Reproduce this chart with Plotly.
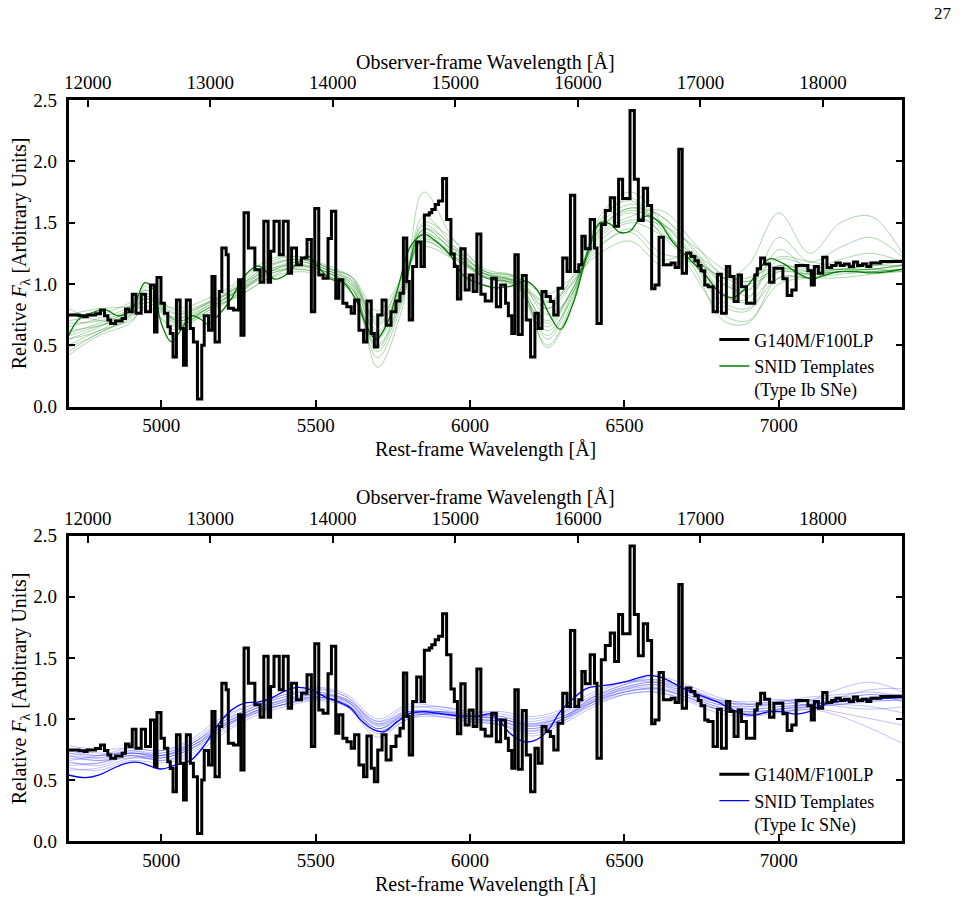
import plotly.graph_objects as go

# ---------------- data ----------------
ONE_PLUS_Z = 2.52          # observer / rest wavelength ratio
WL_MIN, WL_MAX = 4700, 7400

# binned G140M/F100LP spectrum: bin start wavelength (rest, A) and relative flux
SPEC_WL = [4696, 4734, 4750, 4760, 4787, 4803, 4816, 4827, 4836, 4852, 4873, 4884, 4895, 4906, 4918,
           4935, 4949, 4965, 4978, 4986, 4999, 5010, 5021, 5029, 5038, 5049, 5061, 5072, 5081, 5094,
           5104, 5117, 5131, 5139, 5153, 5164, 5174, 5188, 5196, 5210, 5217, 5234, 5250, 5258, 5268,
           5282, 5303, 5320, 5332, 5346, 5354, 5365, 5382, 5395, 5411, 5422, 5438, 5454, 5472, 5486,
           5497, 5510, 5524, 5540, 5551, 5565, 5575, 5588, 5601, 5615, 5626, 5640, 5655, 5666, 5680,
           5690, 5701, 5715, 5728, 5744, 5760, 5773, 5784, 5795, 5803, 5814, 5827, 5841, 5852, 5868,
           5876, 5887, 5898, 5911, 5924, 5938, 5949, 5959, 5970, 5984, 5997, 6010, 6022, 6035, 6049,
           6070, 6085, 6099, 6115, 6124, 6135, 6145, 6156, 6169, 6182, 6196, 6210, 6221, 6233, 6246,
           6260, 6271, 6285, 6300, 6314, 6325, 6339, 6352, 6362, 6373, 6389, 6403, 6411, 6425, 6438,
           6454, 6468, 6481, 6494, 6518, 6532, 6545, 6561, 6575, 6588, 6599, 6612, 6626, 6651, 6664,
           6676, 6687, 6701, 6715, 6728, 6739, 6748, 6760, 6771, 6787, 6801, 6814, 6830, 6841, 6855,
           6868, 6879, 6895, 6922, 6930, 6941, 6954, 6970, 6984, 7013, 7027, 7042, 7056, 7094, 7105,
           7115, 7128, 7142, 7156, 7171, 7185, 7199, 7212, 7228, 7242, 7255, 7271, 7285, 7298, 7330]
SPEC_FLUX = [0.746, 0.740, 0.733, 0.746, 0.757, 0.787, 0.741, 0.705, 0.678, 0.697, 0.719, 0.795, 0.774, 0.916, 0.760,
             0.916, 0.774, 0.992, 0.609, 1.053, 0.842, 0.760, 0.650, 0.595, 0.404, 0.870, 0.637, 0.336, 0.870, 0.637,
             0.527, 0.062, 0.500, 0.741, 0.623, 1.061, 0.527, 0.938, 1.293, 1.238, 0.801, 0.787, 1.034, 0.582, 1.581,
             1.293, 1.115, 1.014, 1.512, 1.014, 1.266, 1.512, 1.238, 1.512, 1.088, 1.293, 1.156, 1.211, 1.362, 0.774,
             1.616, 1.074, 1.047, 1.370, 1.594, 0.883, 1.034, 0.842, 0.814, 0.760, 0.870, 0.623, 0.527, 0.861, 0.596,
             0.486, 0.746, 0.870, 0.664, 0.774, 0.861, 0.924, 1.375, 1.020, 0.705, 1.143, 1.343, 1.143, 1.562, 1.581,
             1.608, 1.649, 1.676, 1.860, 1.526, 1.244, 1.143, 0.878, 1.288, 0.951, 1.074, 0.938, 1.408, 0.916, 0.861,
             1.047, 0.814, 0.992, 0.842, 0.741, 0.596, 1.238, 0.587, 1.069, 0.705, 0.404, 0.760, 0.637, 0.938, 0.897,
             0.856, 0.746, 0.965, 1.211, 1.102, 1.723, 1.102, 1.156, 1.389, 1.288, 1.526, 1.293, 0.678, 1.485, 1.600,
             1.704, 1.471, 1.854, 1.698, 2.415, 1.854, 1.518, 1.780, 1.641, 0.960, 0.992, 1.381, 1.156, 1.170, 1.135,
             2.100, 1.088, 1.253, 1.225, 1.189, 1.151, 1.107, 0.992, 0.978, 0.774, 1.080, 0.760, 1.143, 1.061, 0.856,
             1.074, 0.978, 0.842, 1.074, 1.124, 1.211, 1.162, 1.014, 1.129, 1.042, 0.905, 0.951, 1.151, 1.107, 0.992,
             1.143, 1.088, 1.217, 1.135, 1.151, 1.170, 1.151, 1.162, 1.143, 1.179, 1.151, 1.162, 1.143, 1.170, 1.184]

# best-matching Type Ib template (dark green)
IB_MAIN_WL = [4700, 4732, 4775, 4818, 4861, 4904, 4947, 4974, 5000, 5032, 5065, 5097, 5129, 5151, 5183,
              5226, 5269, 5312, 5333, 5366, 5398, 5441, 5473, 5505, 5548, 5591, 5634, 5657, 5695, 5732,
              5765, 5808, 5851, 5894, 5937, 5980, 6023, 6076, 6130, 6179, 6216, 6259, 6292, 6335, 6378,
              6421, 6453, 6485, 6517, 6550, 6576, 6614, 6657, 6711, 6765, 6808, 6851, 6894, 6937, 6969,
              7012, 7066, 7109, 7141, 7195, 7249, 7302, 7356, 7400]
IB_MAIN_FLUX = [0.58, 0.71, 0.765, 0.79, 0.74, 0.79, 1.01, 0.955, 0.68, 0.53, 0.63, 0.74, 0.71, 0.67, 0.74,
                0.876, 1.065, 1.147, 1.12, 1.04, 1.065, 1.17, 1.23, 1.147, 1.04, 1.01, 0.85, 0.70, 0.547, 0.68,
                0.955, 1.31, 1.405, 1.34, 1.23, 1.065, 1.01, 0.97, 0.98, 1.025, 0.955, 0.74, 0.63, 0.85, 1.23,
                1.50, 1.49, 1.42, 1.43, 1.53, 1.555, 1.50, 1.34, 1.20, 1.065, 0.93, 0.89, 0.97, 1.12, 1.205,
                1.17, 1.08, 1.04, 1.065, 1.10, 1.10, 1.09, 1.10, 1.12]

# other Type Ib templates (light green), sampled on IB_GRID
IB_GRID = [4700, 4800, 4900, 4950, 5050, 5150, 5250, 5350, 5450, 5550, 5620, 5700, 5780, 5850, 5950,
           6050, 6150, 6250, 6330, 6420, 6520, 6620, 6720, 6820, 6900, 7000, 7100, 7200, 7300, 7400]
IB_TEMPLATES = [
    [0.55, 0.65, 0.80, 0.92, 0.70, 0.80, 0.95, 1.12, 1.15, 1.08, 0.95, 0.55, 0.95, 1.45, 1.25, 1.05, 1.00, 0.70, 0.95, 1.45, 1.60, 1.50, 1.25, 1.00, 0.95, 1.15, 1.10, 1.10, 1.12, 1.15],
    [0.45, 0.60, 0.72, 0.85, 0.68, 0.78, 0.92, 1.08, 1.12, 1.05, 0.92, 0.40, 0.85, 1.55, 1.30, 1.08, 1.02, 0.55, 0.90, 1.50, 1.70, 1.45, 1.20, 0.85, 0.80, 1.05, 1.05, 1.08, 1.10, 1.12],
    [0.70, 0.75, 0.85, 0.95, 0.78, 0.85, 0.98, 1.15, 1.20, 1.10, 1.00, 0.70, 1.05, 1.35, 1.20, 1.05, 1.00, 0.85, 1.00, 1.30, 1.45, 1.25, 1.20, 1.05, 1.00, 1.10, 1.08, 1.10, 1.10, 1.12],
    [0.80, 0.70, 0.75, 0.88, 0.72, 0.82, 0.95, 1.10, 1.18, 1.10, 1.02, 0.62, 0.95, 1.40, 1.28, 1.10, 1.05, 0.75, 0.92, 1.40, 1.55, 1.60, 1.35, 1.05, 0.90, 1.20, 1.15, 1.12, 1.15, 1.18],
    [0.50, 0.62, 0.70, 0.80, 0.65, 0.80, 0.90, 1.05, 1.10, 1.05, 0.95, 0.45, 0.88, 1.50, 1.35, 1.10, 1.00, 0.50, 0.85, 1.55, 1.75, 1.50, 1.10, 0.75, 0.70, 1.00, 1.05, 1.10, 1.12, 1.10],
    [0.60, 0.68, 0.78, 0.90, 0.75, 0.85, 1.00, 1.18, 1.22, 1.12, 1.05, 0.68, 1.00, 1.38, 1.22, 1.08, 1.02, 0.80, 1.05, 1.35, 1.50, 1.40, 1.25, 1.05, 1.15, 1.58, 1.25, 1.50, 1.55, 1.25],
    [0.65, 0.72, 0.82, 0.98, 0.70, 0.82, 0.98, 1.12, 1.18, 1.10, 1.00, 0.58, 0.98, 1.42, 1.22, 1.05, 0.98, 0.65, 0.95, 1.45, 1.62, 1.55, 1.30, 1.00, 0.95, 1.38, 1.18, 1.30, 1.38, 1.22],
    [0.42, 0.58, 0.68, 0.82, 0.62, 0.78, 0.90, 1.05, 1.15, 1.08, 0.98, 0.32, 0.80, 1.75, 1.35, 1.12, 1.05, 0.48, 0.82, 1.52, 1.68, 1.40, 1.15, 0.70, 0.68, 1.05, 1.05, 1.05, 1.08, 1.10],
    [0.75, 0.80, 0.82, 0.88, 0.80, 0.88, 1.02, 1.20, 1.22, 1.12, 1.05, 0.78, 1.05, 1.30, 1.20, 1.08, 1.05, 0.92, 1.05, 1.25, 1.35, 1.15, 1.18, 1.05, 1.05, 1.15, 1.12, 1.12, 1.15, 1.15],
    [0.55, 0.62, 0.78, 0.95, 0.68, 0.76, 0.92, 1.10, 1.12, 1.06, 0.92, 0.50, 0.92, 1.48, 1.28, 1.05, 1.00, 0.62, 0.88, 1.48, 1.65, 1.55, 1.28, 0.92, 0.85, 1.10, 1.08, 1.12, 1.12, 1.15],
    [0.62, 0.66, 0.74, 0.85, 0.72, 0.84, 0.96, 1.14, 1.20, 1.14, 1.04, 0.66, 0.98, 1.36, 1.25, 1.10, 1.06, 0.80, 1.00, 1.38, 1.52, 1.48, 1.32, 1.12, 1.02, 1.22, 1.18, 1.15, 1.18, 1.20],
    [0.48, 0.60, 0.74, 0.90, 0.66, 0.80, 0.94, 1.10, 1.16, 1.08, 0.96, 0.48, 0.90, 1.45, 1.30, 1.08, 0.98, 0.58, 0.92, 1.42, 1.58, 1.42, 1.18, 0.82, 0.78, 1.12, 1.08, 1.10, 1.10, 1.12],
    [0.68, 0.70, 0.80, 0.92, 0.76, 0.84, 0.98, 1.16, 1.20, 1.12, 1.02, 0.72, 1.02, 1.34, 1.22, 1.06, 1.02, 0.86, 1.02, 1.32, 1.42, 1.20, 1.24, 1.08, 1.02, 1.12, 1.10, 1.12, 1.12, 1.16],
    [0.58, 0.66, 0.76, 0.88, 0.70, 0.80, 0.94, 1.08, 1.14, 1.08, 0.98, 0.60, 0.94, 1.44, 1.26, 1.06, 1.02, 0.68, 0.95, 1.44, 1.62, 1.50, 1.22, 0.90, 0.88, 1.28, 1.12, 1.20, 1.25, 1.18],
]

# best-matching Type Ic template (dark blue)
IC_MAIN_WL = [4700, 4754, 4797, 4840, 4883, 4926, 4969, 5000, 5043, 5097, 5140, 5183, 5226, 5269, 5312,
              5355, 5398, 5441, 5484, 5527, 5570, 5613, 5646, 5689, 5722, 5765, 5808, 5851, 5894, 5937,
              5980, 6023, 6066, 6098, 6130, 6173, 6206, 6249, 6292, 6335, 6378, 6421, 6464, 6507, 6550,
              6582, 6625, 6668, 6711, 6754, 6797, 6840, 6883, 6926, 6969, 7012, 7055, 7098, 7141, 7195,
              7249, 7302, 7356, 7400]
IC_MAIN_FLUX = [0.541, 0.519, 0.54, 0.59, 0.635, 0.645, 0.61, 0.59, 0.62, 0.664, 0.786, 0.95, 1.07, 1.13, 1.137,
                1.17, 1.225, 1.258, 1.24, 1.184, 1.143, 1.09, 0.99, 0.91, 0.896, 0.98, 1.047, 1.06, 1.047, 1.033,
                1.025, 1.02, 1.04, 0.98, 0.88, 0.815, 0.82, 0.896, 1.06, 1.17, 1.25, 1.27, 1.285, 1.307, 1.34,
                1.356, 1.334, 1.28, 1.225, 1.184, 1.143, 1.09, 1.04, 1.033, 1.06, 1.06, 1.04, 1.06, 1.115, 1.143,
                1.157, 1.165, 1.17, 1.175]

# other Type Ic templates (light blue), sampled on IC_GRID
IC_GRID = [4700, 4800, 4900, 5000, 5100, 5200, 5300, 5400, 5500, 5600, 5700, 5800, 5900, 6000,
           6100, 6200, 6300, 6400, 6500, 6600, 6700, 6800, 6900, 7000, 7100, 7200, 7300, 7400]
IC_TEMPLATES = [
    [0.72, 0.70, 0.72, 0.70, 0.78, 0.95, 1.08, 1.15, 1.20, 1.15, 0.95, 1.05, 1.05, 1.02, 1.00, 0.95, 1.02, 1.15, 1.25, 1.28, 1.22, 1.12, 1.08, 1.10, 1.12, 1.15, 1.18, 1.20],
    [0.65, 0.62, 0.70, 0.66, 0.74, 0.92, 1.05, 1.12, 1.18, 1.12, 0.90, 1.02, 1.04, 1.00, 0.98, 0.90, 0.98, 1.12, 1.22, 1.25, 1.18, 1.08, 1.05, 1.08, 1.10, 1.12, 1.15, 1.15],
    [0.78, 0.75, 0.76, 0.74, 0.82, 1.00, 1.12, 1.18, 1.25, 1.18, 0.98, 1.10, 1.08, 1.04, 1.02, 0.98, 1.05, 1.20, 1.30, 1.32, 1.25, 1.15, 1.12, 1.15, 1.15, 1.12, 1.10, 1.05],
    [0.60, 0.58, 0.66, 0.64, 0.70, 0.88, 1.02, 1.10, 1.15, 1.10, 0.85, 1.00, 1.02, 0.98, 0.95, 0.86, 0.96, 1.10, 1.20, 1.22, 1.15, 1.05, 1.02, 1.05, 1.08, 1.02, 0.92, 0.80],
    [0.70, 0.68, 0.74, 0.72, 0.80, 0.98, 1.10, 1.20, 1.22, 1.15, 0.92, 1.06, 1.06, 1.00, 0.98, 0.92, 1.00, 1.18, 1.28, 1.35, 1.28, 1.18, 1.12, 1.12, 1.15, 1.25, 1.30, 1.22],
    [0.68, 0.66, 0.68, 0.68, 0.76, 0.94, 1.06, 1.14, 1.18, 1.10, 0.88, 1.00, 1.06, 1.03, 1.02, 0.96, 1.04, 1.16, 1.24, 1.26, 1.20, 1.12, 1.10, 1.14, 1.18, 1.20, 1.22, 1.18],
    [0.75, 0.72, 0.72, 0.72, 0.80, 0.96, 1.08, 1.16, 1.22, 1.16, 0.96, 1.08, 1.10, 1.06, 1.04, 1.00, 1.06, 1.18, 1.26, 1.30, 1.24, 1.16, 1.14, 1.16, 1.10, 1.05, 1.00, 0.95],
    [0.62, 0.64, 0.72, 0.68, 0.76, 0.90, 1.04, 1.12, 1.17, 1.14, 0.94, 1.04, 1.02, 0.98, 0.95, 0.88, 0.98, 1.14, 1.22, 1.24, 1.18, 1.10, 1.06, 1.08, 1.10, 1.12, 1.14, 1.16],
    [0.72, 0.68, 0.70, 0.66, 0.72, 0.92, 1.06, 1.14, 1.20, 1.16, 0.98, 1.06, 1.04, 1.00, 0.96, 0.90, 1.00, 1.16, 1.26, 1.30, 1.24, 1.14, 1.08, 1.10, 1.12, 1.14, 1.16, 1.18],
    [0.66, 0.70, 0.76, 0.74, 0.84, 1.02, 1.12, 1.20, 1.26, 1.20, 1.00, 1.12, 1.10, 1.06, 1.06, 1.02, 1.08, 1.22, 1.30, 1.30, 1.22, 1.14, 1.12, 1.14, 1.16, 1.18, 1.20, 1.20],
    [0.58, 0.60, 0.68, 0.70, 0.78, 0.94, 1.06, 1.12, 1.16, 1.12, 0.90, 1.02, 1.04, 1.02, 1.00, 0.94, 1.02, 1.14, 1.22, 1.25, 1.18, 1.08, 1.04, 1.06, 1.10, 1.18, 1.24, 1.25],
    [0.74, 0.70, 0.74, 0.70, 0.78, 0.96, 1.08, 1.16, 1.20, 1.14, 0.92, 1.04, 1.06, 1.02, 1.00, 0.94, 1.00, 1.14, 1.24, 1.28, 1.20, 1.10, 1.06, 1.08, 1.12, 1.14, 1.16, 1.17],
    [0.70, 0.66, 0.72, 0.70, 0.80, 0.98, 1.10, 1.18, 1.24, 1.18, 0.96, 1.06, 1.06, 1.04, 1.00, 0.96, 1.02, 1.18, 1.28, 1.32, 1.26, 1.16, 1.10, 1.12, 1.14, 1.10, 1.08, 1.10],
    [0.64, 0.64, 0.70, 0.68, 0.76, 0.94, 1.04, 1.12, 1.18, 1.12, 0.92, 1.04, 1.04, 1.00, 0.98, 0.92, 1.00, 1.12, 1.20, 1.22, 1.16, 1.08, 1.04, 1.06, 1.08, 1.15, 1.20, 1.14],
]

SPEC_LABEL = "G140M/F100LP"
REST_TITLE = "Rest-frame Wavelength [Å]"
OBS_TITLE = "Observer-frame Wavelength [Å]"
Y_TITLE = "Relative <i>F</i><sub>λ</sub> [Arbitrary Units]"

# ---------------- layout helpers ----------------
W, FIG_H = 971, 924
VSCALE, VOFF = 0.976, 11.0   # observed vertical mapping of the rendered page
FONT = "'Liberation Serif', 'Times New Roman', 'DejaVu Serif', serif"
FS = 20
TFS = 19


def py(p):
    """target picture row -> paper y"""
    return 1 - ((p - VOFF) / VSCALE) / FIG_H


XDOM = [64 / W, 902 / W]
PANELS = [
    dict(x="x", y="y", xo="x3", dom=[py(407), py(101)], top_px=101, bot_px=407,
         grid=IB_GRID, temps=IB_TEMPLATES, mwl=IB_MAIN_WL, mfl=IB_MAIN_FLUX,
         col="rgb(0,128,0)", light="rgba(0,128,0,0.32)", legend="legend",
         tlabel="SNID Templates<br>(Type Ib SNe)"),
    dict(x="x2", y="y2", xo="x4", dom=[py(841), py(536)], top_px=536, bot_px=841,
         grid=IC_GRID, temps=IC_TEMPLATES, mwl=IC_MAIN_WL, mfl=IC_MAIN_FLUX,
         col="rgb(0,0,255)", light="rgba(0,0,255,0.25)", legend="legend2",
         tlabel="SNID Templates<br>(Type Ic SNe)"),
]

fig = go.Figure()

spec_x = SPEC_WL + [WL_MAX]
spec_y = SPEC_FLUX + [SPEC_FLUX[-1]]

for P in PANELS:
    for t in P["temps"]:
        fig.add_trace(go.Scatter(x=P["grid"], y=t, mode="lines", line=dict(color=P["light"], width=1, shape="spline", smoothing=1.0),
                                 xaxis=P["x"], yaxis=P["y"], showlegend=False, hoverinfo="skip"))
    fig.add_trace(go.Scatter(x=P["mwl"], y=P["mfl"], mode="lines", line=dict(color=P["col"], width=1.3, shape="spline", smoothing=1.0),
                             xaxis=P["x"], yaxis=P["y"], name=P["tlabel"], legend=P["legend"], legendrank=2))
    fig.add_trace(go.Scatter(x=spec_x, y=spec_y, mode="lines", line=dict(color="black", width=3, shape="hv"),
                             xaxis=P["x"], yaxis=P["y"], name=SPEC_LABEL, legend=P["legend"], legendrank=1))
    # carrier for the observer-frame axis
    fig.add_trace(go.Scatter(x=[WL_MIN * ONE_PLUS_Z, WL_MAX * ONE_PLUS_Z], y=[1, 1], mode="lines",
                             line=dict(width=0, color="rgba(0,0,0,0)"), xaxis=P["xo"], yaxis=P["y"],
                             showlegend=False, hoverinfo="skip"))

axc = dict(showline=True, linecolor="black", linewidth=2.5, ticks="inside", ticklen=7, tickwidth=1.6,
           tickcolor="black", showgrid=False, zeroline=False, tickfont=dict(family=FONT, size=TFS, color="black"))

layout = dict(
    width=W, height=FIG_H, margin=dict(l=0, r=0, t=0, b=0),
    paper_bgcolor="white", plot_bgcolor="white",
    font=dict(family=FONT, size=FS, color="black"),
    showlegend=True,
)

ann = []
for i, P in enumerate(PANELS):
    xk = "xaxis" if P["x"] == "x" else "xaxis" + P["x"][1:]
    yk = "yaxis" if P["y"] == "y" else "yaxis" + P["y"][1:]
    xok = "xaxis" + P["xo"][1:]
    layout[xk] = dict(axc, domain=XDOM, anchor=P["y"], range=[WL_MIN, WL_MAX], dtick=500, tick0=0, mirror=True)
    layout[yk] = dict(axc, domain=P["dom"], anchor=P["x"], range=[0, 2.5], dtick=0.5, tick0=0,
                      tickformat=".1f", mirror="ticks", ticklabelstandoff=5)
    layout[xok] = dict(axc, overlaying=P["x"], anchor=P["y"], side="top", showline=False,
                       range=[WL_MIN * ONE_PLUS_Z, WL_MAX * ONE_PLUS_Z], dtick=1000, tick0=0, tickformat="d",
                       ticklabelstandoff=6)
    top, bot = P["top_px"], P["bot_px"]
    ann.append(dict(text=REST_TITLE, x=(XDOM[0] + XDOM[1]) / 2, y=py(bot + 43), xref="paper", yref="paper",
                    showarrow=False, xanchor="center", yanchor="middle", font=dict(family=FONT, size=FS)))
    ann.append(dict(text=OBS_TITLE, x=(XDOM[0] + XDOM[1]) / 2, y=py(top - 38), xref="paper", yref="paper",
                    showarrow=False, xanchor="center", yanchor="middle", font=dict(family=FONT, size=FS)))
    ann.append(dict(text=Y_TITLE, x=15 / W, y=py((top + bot) / 2), xref="paper", yref="paper", textangle=-90,
                    showarrow=False, xanchor="center", yanchor="middle", font=dict(family=FONT, size=FS)))
    lg = dict(x=713 / W, y=py(bot - 85), xanchor="left", yanchor="top", bgcolor="rgba(0,0,0,0)",
              font=dict(family=FONT, size=18), valign="top", tracegroupgap=0)
    layout[P["legend"]] = lg

ann.append(dict(text="27", x=943 / W, y=py(14), xref="paper", yref="paper", showarrow=False,
                xanchor="center", yanchor="middle", font=dict(family=FONT, size=17)))
layout["annotations"] = ann

fig.update_layout(**layout)
fig.write_html("out.html")
